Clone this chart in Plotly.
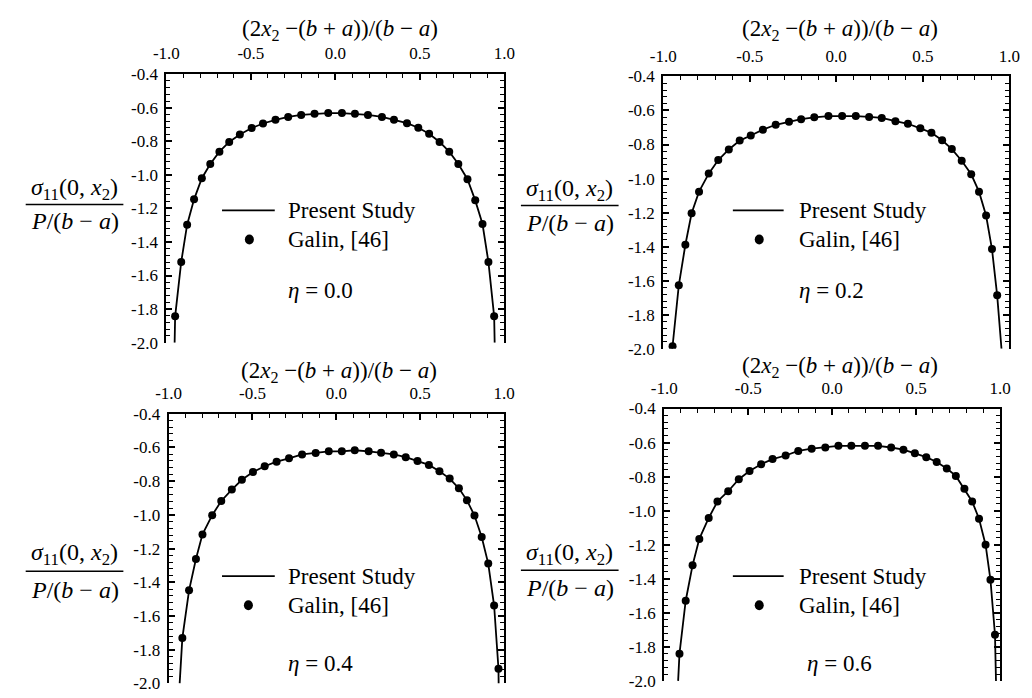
import plotly.graph_objects as go

W, H = 1032, 698
SERIF = "'Times New Roman', 'Liberation Serif', 'DejaVu Serif', serif"

# ---- data: normalised stress sigma_11(0, x2) / (P/(b-a)) ----
# eta = 0.0
galin_x_00 = [-0.948, -0.912, -0.877, -0.836, -0.790, -0.740, -0.686, -0.628, -0.565, -0.495,
              -0.428, -0.354, -0.279, -0.202, -0.123, -0.042, 0.039, 0.116, 0.193, 0.276,
              0.347, 0.424, 0.491, 0.555, 0.617, 0.674, 0.728, 0.782, 0.828, 0.871, 0.906, 0.940]
galin_y_00 = [-1.843, -1.519, -1.297, -1.146, -1.020, -0.935, -0.862, -0.804, -0.759, -0.721,
              -0.694, -0.672, -0.655, -0.643, -0.636, -0.632, -0.632, -0.636, -0.643, -0.655,
              -0.672, -0.692, -0.719, -0.755, -0.804, -0.862, -0.935, -1.026, -1.152, -1.293, -1.519, -1.843]
study_x_00 = [-0.951] + galin_x_00 + [0.943]
study_y_00 = [-2.0] + galin_y_00 + [-2.0]

# eta = 0.2
galin_x_02 = [-0.946, -0.910, -0.872, -0.836, -0.793, -0.737, -0.682, -0.621, -0.558, -0.494,
              -0.424, -0.350, -0.273, -0.203, -0.127, -0.045, 0.034, 0.113, 0.190, 0.263,
              0.342, 0.414, 0.486, 0.550, 0.612, 0.668, 0.725, 0.780, 0.825, 0.866, 0.900, 0.930]
galin_y_02 = [-1.985, -1.627, -1.389, -1.204, -1.077, -0.971, -0.891, -0.829, -0.777, -0.747,
              -0.713, -0.684, -0.667, -0.651, -0.640, -0.633, -0.633, -0.633, -0.638, -0.644,
              -0.663, -0.678, -0.705, -0.731, -0.775, -0.827, -0.895, -0.975, -1.077, -1.217, -1.414, -1.686]
study_x_02 = [-0.949] + galin_x_02 + [0.955]
study_y_02 = [-2.0] + galin_y_02 + [-2.0]

# eta = 0.4
galin_x_04 = [-0.918, -0.878, -0.837, -0.798, -0.740, -0.686, -0.623, -0.563, -0.497, -0.427,
              -0.356, -0.282, -0.204, -0.123, -0.045, 0.033, 0.110, 0.193, 0.267, 0.343,
              0.414, 0.484, 0.552, 0.615, 0.676, 0.731, 0.779, 0.824, 0.867, 0.906, 0.941, 0.967]
galin_y_04 = [-1.731, -1.448, -1.262, -1.116, -1.002, -0.918, -0.850, -0.792, -0.746, -0.712,
              -0.685, -0.665, -0.642, -0.633, -0.623, -0.623, -0.617, -0.623, -0.631, -0.642,
              -0.658, -0.681, -0.704, -0.742, -0.785, -0.843, -0.914, -1.004, -1.131, -1.289, -1.538, -1.913]
study_x_04 = [-0.934] + galin_x_04 + [0.968]
study_y_04 = [-2.0] + galin_y_04 + [-2.0]

# eta = 0.6
galin_x_06 = [-0.909, -0.872, -0.831, -0.791, -0.735, -0.683, -0.619, -0.556, -0.492, -0.423,
              -0.355, -0.277, -0.202, -0.122, -0.041, 0.037, 0.114, 0.195, 0.273, 0.351,
              0.424, 0.492, 0.560, 0.622, 0.682, 0.736, 0.787, 0.833, 0.874, 0.913, 0.942, 0.969]
galin_y_06 = [-1.840, -1.529, -1.320, -1.166, -1.043, -0.946, -0.886, -0.815, -0.767, -0.727,
              -0.697, -0.676, -0.649, -0.636, -0.629, -0.619, -0.619, -0.619, -0.619, -0.629,
              -0.642, -0.663, -0.686, -0.714, -0.752, -0.796, -0.872, -0.946, -1.047, -1.200, -1.406, -1.729]
study_x_06 = [-0.917] + galin_x_06 + [0.975]
study_y_06 = [-2.0] + galin_y_06 + [-2.0]

eta_labels = ["0.0", "0.2", "0.4", "0.6"]
x_tick_vals = [-1.0, -0.5, 0.0, 0.5, 1.0]
x_tick_text = ["-1.0", "-0.5", "0.0", "0.5", "1.0"]
y_tick_vals = [-0.4, -0.6, -0.8, -1.0, -1.2, -1.4, -1.6, -1.8, -2.0]
y_tick_text = ["-0.4", "-0.6", "-0.8", "-1.0", "-1.2", "-1.4", "-1.6", "-1.8", "-2.0"]

series = [
    (study_x_00, study_y_00, galin_x_00, galin_y_00),
    (study_x_02, study_y_02, galin_x_02, galin_y_02),
    (study_x_04, study_y_04, galin_x_04, galin_y_04),
    (study_x_06, study_y_06, galin_x_06, galin_y_06),
]

# ---- layout geometry (pixels) ----
# plot frame: left, top, right, bottom
frames = [
    (157.0, 67.0, 503.0, 343.0),
    (665.7, 69.3, 1020.0, 349.3),
    (159.3, 416.0, 502.7, 693.3),
    (666.7, 410.7, 1010.7, 690.7),
]
# x-axis title centre
xtitle_pos = [(335, 22), (847, 22), (334, 373), (847, 368)]
# y-axis fraction: centre x, numerator y, bar y, denominator y, bar left, bar right
frac_pos = [
    (63, 185, 201, 218, 13, 113),
    (570, 186, 202, 220, 520, 620),
    (63, 560, 578, 597, 13, 113),
    (570, 560, 577, 595, 520, 620),
]
# legend: line x0, x1, row1 y, text x, marker x, row2 y, eta x, eta y
legend_pos = [
    (214, 268, 207, 279, 242, 237, 280, 289),
    (737, 789, 207, 803, 764, 237, 803, 289),
    (214, 268, 583, 279, 241, 613, 279, 673),
    (737, 789, 583, 803, 764, 613, 811, 673),
]


def px(x):
    return x / W


def py(y):
    return 1 - y / H


def serif(size):
    return dict(family=SERIF, size=size, color="black")


fig = go.Figure()
annotations = []
shapes = []

for i, (sx, sy, gx, gy) in enumerate(series):
    n = "" if i == 0 else str(i + 1)
    xa, ya = "x" + n, "y" + n
    fig.add_trace(go.Scatter(x=sx, y=sy, mode="lines", xaxis=xa, yaxis=ya,
                             line=dict(color="black", width=1.8),
                             showlegend=False, hoverinfo="skip"))
    fig.add_trace(go.Scatter(x=gx, y=gy, mode="markers", xaxis=xa, yaxis=ya,
                             marker=dict(color="black", size=8, symbol="circle"),
                             showlegend=False))

    l, t, r, b = frames[i]
    fig.update_layout(**{
        "xaxis" + n: dict(
            domain=[px(l), px(r)], anchor=ya, side="top", range=[-1.0, 1.0],
            tickmode="array", tickvals=x_tick_vals, ticktext=x_tick_text,
            ticks="inside", ticklen=6, tickwidth=1.5, tickcolor="black",
            ticklabelstandoff=6,
            showline=True, linecolor="black", linewidth=2, mirror=False,
            showgrid=False, zeroline=False,
            minor=dict(ticks="inside", ticklen=4, tickwidth=1.2, tickcolor="black",
                       tick0=-1.0, dtick=0.1, showgrid=False),
            tickfont=serif(17),
        ),
        "yaxis" + n: dict(
            domain=[py(b), py(t)], anchor=xa, range=[-2.0, -0.4],
            tickmode="array", tickvals=y_tick_vals, ticktext=y_tick_text,
            ticks="inside", ticklen=6, tickwidth=1.5, tickcolor="black",
            ticklabelstandoff=3,
            showline=True, linecolor="black", linewidth=2, mirror="ticks",
            showgrid=False, zeroline=False,
            minor=dict(ticks="inside", ticklen=4, tickwidth=1.2, tickcolor="black",
                       tick0=-2.0, dtick=0.04, showgrid=False),
            tickfont=serif(17),
        ),
    })

    # top axis title
    tx, ty = xtitle_pos[i]
    annotations.append(dict(
        x=px(tx), y=py(ty), xref="paper", yref="paper", showarrow=False,
        xanchor="center", yanchor="middle",
        text="(2<i>x</i><sub>2</sub> −(<i>b</i> + <i>a</i>))/(<i>b</i> − <i>a</i>)",
        font=serif(23)))

    # left axis title as a fraction
    cx, ny, by, dy, bl, br = frac_pos[i]
    annotations.append(dict(
        x=px(cx), y=py(ny), xref="paper", yref="paper", showarrow=False,
        xanchor="center", yanchor="middle",
        text="<i>σ</i><sub>11</sub>(0, <i>x</i><sub>2</sub>)",
        font=serif(24)))
    annotations.append(dict(
        x=px(cx), y=py(dy), xref="paper", yref="paper", showarrow=False,
        xanchor="center", yanchor="middle",
        text="<i>P</i>/(<i>b</i> − <i>a</i>)",
        font=serif(24)))
    shapes.append(dict(type="line", xref="paper", yref="paper",
                       x0=px(bl), x1=px(br), y0=py(by), y1=py(by),
                       line=dict(color="black", width=1.5)))

    # legend block
    lx0, lx1, r1y, txx, mx, r2y, ex, ey = legend_pos[i]
    shapes.append(dict(type="line", xref="paper", yref="paper",
                       x0=px(lx0), x1=px(lx1), y0=py(r1y), y1=py(r1y),
                       line=dict(color="black", width=1.8)))
    shapes.append(dict(type="circle", xref="paper", yref="paper",
                       xsizemode="pixel", ysizemode="pixel",
                       xanchor=px(mx), yanchor=py(r2y),
                       x0=-4.5, x1=4.5, y0=-5, y1=5,
                       fillcolor="black", line=dict(color="black", width=0)))
    annotations.append(dict(
        x=px(txx), y=py(r1y), xref="paper", yref="paper", showarrow=False,
        xanchor="left", yanchor="middle", text="Present Study",
        font=serif(23)))
    annotations.append(dict(
        x=px(txx), y=py(r2y), xref="paper", yref="paper", showarrow=False,
        xanchor="left", yanchor="middle", text="Galin, [46]",
        font=serif(23)))
    annotations.append(dict(
        x=px(ex), y=py(ey), xref="paper", yref="paper", showarrow=False,
        xanchor="left", yanchor="middle", text="<i>η</i> = " + eta_labels[i],
        font=serif(23)))

fig.update_layout(
    width=W, height=H, margin=dict(l=0, r=0, t=0, b=0),
    paper_bgcolor="white", plot_bgcolor="white",
    font=serif(16),
    annotations=annotations, shapes=shapes, showlegend=False,
)

fig.write_html("out.html")
